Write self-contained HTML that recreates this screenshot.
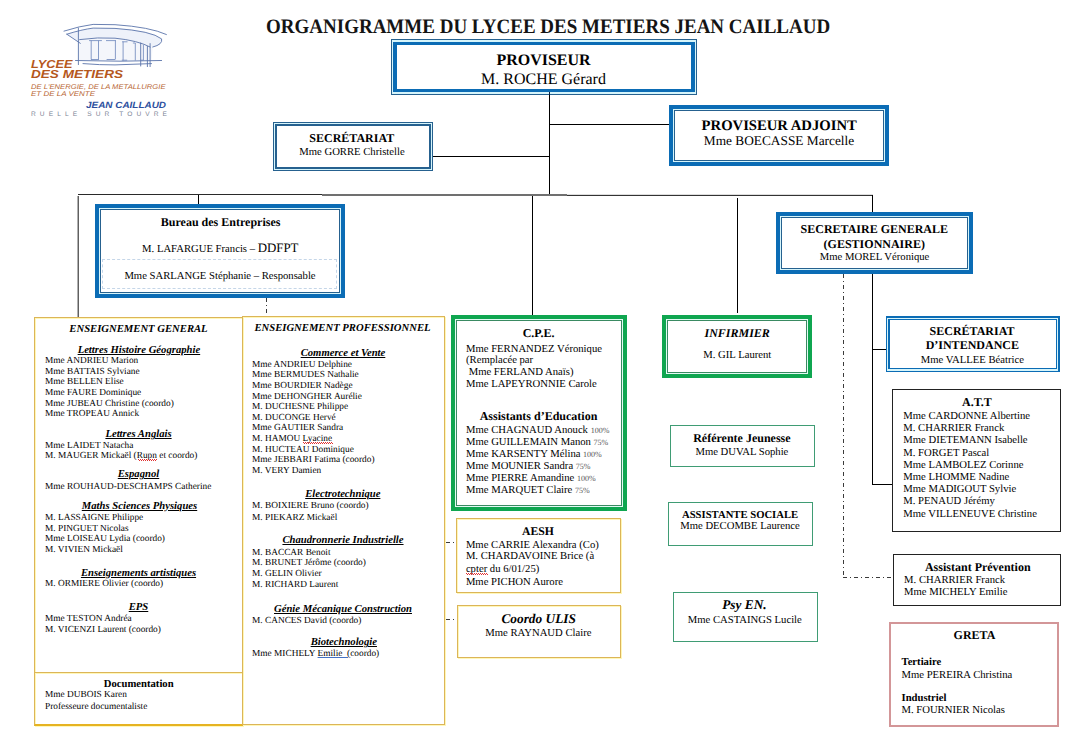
<!DOCTYPE html>
<html><head><meta charset="utf-8"><title>Organigramme</title>
<style>
html,body{margin:0;padding:0;background:#fff;}
body{width:1078px;height:740px;position:relative;overflow:hidden;font-family:"Liberation Serif",serif;color:#000;text-rendering:geometricPrecision;}
.a{position:absolute;}
.t,.tt{position:absolute;white-space:nowrap;}
.sq{text-decoration:underline wavy #e02020;text-decoration-thickness:1px;text-underline-offset:1px;}
u{text-underline-offset:1px;}
</style></head><body>
<div class="t" style="font-size:20.5px;line-height:25.62px;top:14.61px;font-weight:bold;left:266.00px;transform-origin:0 0;transform:scaleX(0.927);color:#141414;">ORGANIGRAMME DU LYCEE DES METIERS JEAN CAILLAUD</div>

<svg class="a" style="left:0;top:0" width="200" height="130" viewBox="0 0 200 130">
 <path d="M66.8,34.2 L80.3,43.3 L79.6,39.6 Q98,37 115,38.2 Q140,41 152.8,47 Q163,44 161.6,38.9 Q150,30 120,28.4 L93.1,28.1 Z" fill="#eef2fa"/>
 <path d="M79.6,39.6 Q98,37 115,38.2 Q140,41 152.8,47 L151.5,61 L78.4,61 Z" fill="#f4f6fb"/>
 <g fill="none" stroke="#5a74aa" stroke-width="0.9" stroke-linecap="round">
  <path d="M64,31.1 Q80,26 93.1,24.4 L115,24.7 Q150,27 166.4,34.5"/>
  <path d="M66.8,34.2 Q82,29.5 93.1,28.1 L115,28.4 Q152,31 161.6,38.9 Q163,44.5 152.8,47"/>
  <path d="M66.8,34.2 L80.3,43.3"/>
  <path d="M79.6,39.6 Q98,37 115,38.2 Q138,40.5 150.1,47"/>
  <path d="M78.4,28.1 L78.4,64.6"/>
  <path d="M75.5,60.5 L120,61.2 L161.6,60.5"/>
  <path d="M83,63.6 Q100,65 115,64.9 L151.5,63.6"/>
  <path d="M150.1,43.6 L150.1,66.6 M147.4,46.4 L147.4,66.6 M140.7,43 L140.7,66"/>
 </g>
 <g fill="none" stroke="#6a84ba" stroke-width="0.8">
  <path d="M91.2,40.6 L91.2,59.5 M98.5,40.6 L98.5,59.5 M115.4,40.6 L115.4,59.5 M123.1,41.6 L123.1,60.5 M135.3,43 L135.3,60.5 M143.4,44.5 L143.4,60.5"/>
  <path d="M89.1,40.6 L101.9,40.6 M106,40.6 L116,40.6 M122.1,41.8 L127.5,41.8 M132.9,43 L135.3,43 M91,59.5 L98.9,59.5 M106.6,59.5 L115,59.5 M121.8,60.2 L127.2,60.2 M140.3,60.2 L143.4,60.2"/>
 </g>
 <g font-family="Liberation Sans" font-style="italic" fill="#b5571c">
  <text x="31" y="67.6" font-size="11.6" font-weight="bold" textLength="41.5" lengthAdjust="spacingAndGlyphs">LYCEE</text>
  <text x="31" y="78.3" font-size="11.6" font-weight="bold" textLength="92" lengthAdjust="spacingAndGlyphs">DES METIERS</text>
  <text x="31" y="88.9" font-size="6.8" fill="#b86634" textLength="134.5" lengthAdjust="spacingAndGlyphs">DE L'ENERGIE, DE LA METALLURGIE</text>
  <text x="31" y="96" font-size="6.8" fill="#b86634" textLength="64" lengthAdjust="spacingAndGlyphs">ET DE LA VENTE</text>
 </g>
 <text x="86" y="108.2" font-family="Liberation Sans" font-style="italic" font-weight="bold" font-size="9" fill="#2d4f9e" textLength="80" lengthAdjust="spacingAndGlyphs">JEAN CAILLAUD</text>
 <text x="31" y="115.9" font-family="Liberation Sans" font-size="6.6" fill="#7d8596" textLength="136" lengthAdjust="spacing">RUELLE SUR TOUVRE</text>
</svg>
<div class="a" style="left:549px;top:95px;width:1px;height:1px;background:#000"></div>
<div class="a" style="left:549px;top:94px;width:1px;height:101px;background:#000"></div>
<div class="a" style="left:549px;top:124px;width:121px;height:1px;background:#000"></div>
<div class="a" style="left:433px;top:156px;width:116px;height:1px;background:#000"></div>
<div class="a" style="left:78px;top:194px;width:244px;height:1px;background:#2a2a2a"></div>
<div class="a" style="left:322px;top:194px;width:245px;height:2px;background:#707070"></div>
<div class="a" style="left:567px;top:195px;width:306px;height:1px;background:#333333"></div>
<div class="a" style="left:567px;top:194px;width:306px;height:1px;background:#dddddd"></div>
<div class="a" style="left:77px;top:196px;width:1px;height:121px;background:#b0b0b0"></div>
<div class="a" style="left:78px;top:196px;width:1px;height:121px;background:#606060"></div>
<div class="a" style="left:198px;top:195px;width:1px;height:10px;background:#000"></div>
<div class="a" style="left:532px;top:196px;width:1px;height:120px;background:#000"></div>
<div class="a" style="left:737px;top:198px;width:1px;height:115px;background:#000"></div>
<div class="a" style="left:872px;top:195px;width:1px;height:18px;background:#000"></div>
<div class="a" style="left:872px;top:273px;width:1px;height:212px;background:#000"></div>
<div class="a" style="left:872px;top:349px;width:15px;height:1px;background:#000"></div>
<div class="a" style="left:872px;top:484px;width:21px;height:1px;background:#000"></div>
<div class="a" style="left:843px;top:274px;width:1px;height:304px;background:repeating-linear-gradient(to bottom,#3a3a3a 0 4px,transparent 4px 7px,#3a3a3a 7px 8px,transparent 8px 11px)"></div>
<div class="a" style="left:843px;top:577px;width:50px;height:1px;background:repeating-linear-gradient(to right,#3a3a3a 0 4px,transparent 4px 7px,#3a3a3a 7px 8px,transparent 8px 11px)"></div>
<div class="a" style="left:266px;top:298px;width:1px;height:18px;background:repeating-linear-gradient(to bottom,#3a3a3a 0 4px,transparent 4px 7px,#3a3a3a 7px 8px,transparent 8px 11px)"></div>
<div class="a" style="left:446px;top:542px;width:10px;height:1px;background:repeating-linear-gradient(to right,#3a3a3a 0 4px,transparent 4px 7px,#3a3a3a 7px 8px,transparent 8px 11px)"></div>
<div class="a" style="left:446px;top:619px;width:11px;height:1px;background:repeating-linear-gradient(to right,#3a3a3a 0 4px,transparent 4px 7px,#3a3a3a 7px 8px,transparent 8px 11px)"></div>
<div class="a" style="left:391px;top:39px;width:306px;height:56px;border-style:solid;border-color:#26618f;border-width:1px 1px 1px 1px;box-sizing:border-box;background:#d6f5fb"></div>
<div class="a" style="left:393px;top:42px;width:302px;height:50px;border-style:solid;border-color:#0b6cb5;border-width:3px 4px 3px 4px;box-sizing:border-box;background:#fff"></div>
<div class="a" style="left:669px;top:105px;width:220px;height:61px;border-style:solid;border-color:#0b6cb5;border-width:4px 4px 4px 4px;box-sizing:border-box;background:#d6f5fb"></div>
<div class="a" style="left:674px;top:110px;width:210px;height:51px;border-style:solid;border-color:#26618f;border-width:1px 1px 1px 1px;box-sizing:border-box;background:#fff"></div>
<div class="a" style="left:273px;top:122px;width:160px;height:49px;border-style:solid;border-color:#26618f;border-width:1px 1px 1px 1px;box-sizing:border-box;background:#d6f5fb"></div>
<div class="a" style="left:275px;top:124px;width:156px;height:45px;border-style:solid;border-color:#26618f;border-width:2px 2px 2px 2px;box-sizing:border-box;background:#fff"></div>
<div class="a" style="left:95px;top:204px;width:250px;height:94px;border-style:solid;border-color:#0b6cb5;border-width:4px 4px 4px 4px;box-sizing:border-box;background:#d6f5fb"></div>
<div class="a" style="left:100px;top:209px;width:240px;height:84px;border-style:solid;border-color:#26618f;border-width:1px 1px 1px 1px;box-sizing:border-box;background:#fff"></div>
<div class="a" style="left:102px;top:259px;width:235px;height:30px;border:1px dashed #c5d6e8;box-sizing:border-box"></div>
<div class="a" style="left:776px;top:212px;width:197px;height:62px;border-style:solid;border-color:#0b6cb5;border-width:4px 4px 4px 4px;box-sizing:border-box;background:#d6f5fb"></div>
<div class="a" style="left:781px;top:217px;width:187px;height:52px;border-style:solid;border-color:#26618f;border-width:1px 1px 1px 1px;box-sizing:border-box;background:#fff"></div>
<div class="a" style="left:34px;top:317px;width:209px;height:409px;border:1px solid #dcb558;border-bottom:2px solid #e6b322;box-sizing:border-box;box-shadow:1px 1px 0 #fff7b8, inset 1px 1px 0 #fff7b8;"></div>
<div class="a" style="left:34px;top:672px;width:209px;height:1px;background:#dcb558"></div>
<div class="a" style="left:35px;top:673px;width:207px;height:1px;background:#fff7b8"></div>
<div class="a" style="left:242px;top:316px;width:203px;height:409px;border:1px solid #dcb558;box-sizing:border-box;box-shadow:1px 1px 0 #fff7b8, inset 1px 1px 0 #fff7b8;"></div>
<div class="a" style="left:451px;top:315px;width:176px;height:196px;border-style:solid;border-color:#0fa650;border-width:4px 4px 4px 4px;box-sizing:border-box;background:#e2fbf4"></div>
<div class="a" style="left:456px;top:320px;width:166px;height:186px;border-style:solid;border-color:#3a8a62;border-width:1px 1px 1px 1px;box-sizing:border-box;background:#fff"></div>
<div class="a" style="left:456px;top:518px;width:165px;height:75px;border:1px solid #dcb558;box-sizing:border-box;box-shadow:1px 1px 0 #fff7b8, inset 1px 1px 0 #fff7b8;"></div>
<div class="a" style="left:457px;top:605px;width:164px;height:53px;border:1px solid #dcb558;box-sizing:border-box;box-shadow:1px 1px 0 #fff7b8, inset 1px 1px 0 #fff7b8;"></div>
<div class="a" style="left:662px;top:315px;width:150px;height:63px;border-style:solid;border-color:#0fa650;border-width:4px 4px 4px 4px;box-sizing:border-box;background:#e2fbf4"></div>
<div class="a" style="left:667px;top:320px;width:140px;height:53px;border-style:solid;border-color:#3a8a62;border-width:1px 1px 1px 1px;box-sizing:border-box;background:#fff"></div>
<div class="a" style="left:670px;top:425px;width:145px;height:42px;border:1px solid #3f9c74;box-sizing:border-box"></div>
<div class="a" style="left:668px;top:502px;width:145px;height:44px;border:1px solid #3f9c74;box-sizing:border-box"></div>
<div class="a" style="left:673px;top:592px;width:145px;height:50px;border:1px solid #3f9c74;box-sizing:border-box"></div>
<div class="a" style="left:886px;top:316px;width:174px;height:56px;border-style:solid;border-color:#0b6cb5;border-width:2px 2px 1px 1px;box-sizing:border-box;background:#d6f5fb"></div>
<div class="a" style="left:888px;top:319px;width:169px;height:50px;border-style:solid;border-color:#0b6cb5;border-width:1px 1px 1px 2px;box-sizing:border-box;background:#fff"></div>
<div class="a" style="left:892px;top:389px;width:169px;height:143px;border:1px solid #222;box-sizing:border-box"></div>
<div class="a" style="left:893px;top:554px;width:168px;height:52px;border:1px solid #222;box-sizing:border-box"></div>
<div class="a" style="left:889px;top:622px;width:170px;height:105px;border:2px solid #d39698;box-sizing:border-box"></div>
<div class="a" style="left:549px;top:92px;width:1px;height:3px;background:#0a1e3c"></div>
<div class="t" style="font-size:16.0px;line-height:20.0px;top:51.01px;font-weight:bold;left:243.50px;width:600px;text-align:center;">PROVISEUR</div>
<div class="t" style="font-size:16.0px;line-height:20.0px;top:69.61px;left:243.50px;width:600px;text-align:center;">M. ROCHE Gérard</div>
<div class="t" style="font-size:14.67px;line-height:18.34px;top:116.71px;font-weight:bold;left:479.20px;width:600px;text-align:center;">PROVISEUR ADJOINT</div>
<div class="t" style="font-size:13.33px;line-height:16.66px;top:132.60px;left:479.00px;width:600px;text-align:center;">Mme BOECASSE Marcelle</div>
<div class="t" style="font-size:12.0px;line-height:15.0px;top:130.70px;font-weight:bold;left:51.80px;width:600px;text-align:center;">SECRÉTARIAT</div>
<div class="t" style="font-size:10.67px;line-height:13.34px;top:146.01px;left:52.00px;width:600px;text-align:center;">Mme GORRE Christelle</div>
<div class="t" style="font-size:12.0px;line-height:15.0px;top:214.70px;font-weight:bold;left:-79.40px;width:600px;text-align:center;">Bureau des Entreprises</div>
<div class="t" style="font-size:10.67px;line-height:13.34px;top:241.80px;left:-79.70px;width:600px;text-align:center;">M. LAFARGUE Francis – <span style="font-size:12.9px">DDFPT</span></div>
<div class="t" style="font-size:10.67px;line-height:13.34px;top:269.91px;left:-80.00px;width:600px;text-align:center;">Mme SARLANGE Stéphanie – Responsable</div>
<div class="t" style="font-size:12.0px;line-height:15.0px;top:222.41px;font-weight:bold;left:574.30px;width:600px;text-align:center;">SECRETAIRE GENERALE</div>
<div class="t" style="font-size:12.0px;line-height:15.0px;top:236.60px;font-weight:bold;left:574.30px;width:600px;text-align:center;">(GESTIONNAIRE)</div>
<div class="t" style="font-size:10.67px;line-height:13.34px;top:251.41px;left:574.60px;width:600px;text-align:center;">Mme MOREL Véronique</div>
<div class="t" style="font-size:10.67px;line-height:13.34px;top:323.01px;font-weight:bold;font-style:italic;left:-161.50px;width:600px;text-align:center;">ENSEIGNEMENT GENERAL</div>
<div class="t" style="font-size:10.67px;line-height:13.34px;top:343.72px;font-weight:bold;font-style:italic;left:-161.10px;width:600px;text-align:center;"><u>Lettres Histoire Géographie</u></div>
<div class="t" style="font-size:9.33px;line-height:11.66px;top:355.81px;left:45.00px;">Mme ANDRIEU Marion</div>
<div class="t" style="font-size:9.33px;line-height:11.66px;top:366.54px;left:45.00px;">Mme BATTAIS Sylviane</div>
<div class="t" style="font-size:9.33px;line-height:11.66px;top:377.25px;left:45.00px;">Mme BELLEN Elise</div>
<div class="t" style="font-size:9.33px;line-height:11.66px;top:387.97px;left:45.00px;">Mme FAURE Dominique</div>
<div class="t" style="font-size:9.33px;line-height:11.66px;top:398.68px;left:45.00px;">Mme JUBEAU Christine (coordo)</div>
<div class="t" style="font-size:9.33px;line-height:11.66px;top:409.40px;left:45.00px;">Mme TROPEAU Annick</div>
<div class="t" style="font-size:10.67px;line-height:13.34px;top:428.10px;font-weight:bold;font-style:italic;left:-161.50px;width:600px;text-align:center;"><u>Lettres Anglais</u></div>
<div class="t" style="font-size:9.33px;line-height:11.66px;top:440.61px;left:45.00px;">Mme LAIDET Natacha</div>
<div class="t" style="font-size:9.33px;line-height:11.66px;top:450.90px;left:45.00px;">M. MAUGER Mickaël (Rupn et coordo)</div>
<div class="t" style="font-size:10.67px;line-height:13.34px;top:468.01px;font-weight:bold;font-style:italic;left:-161.50px;width:600px;text-align:center;"><u>Espagnol</u></div>
<div class="t" style="font-size:9.33px;line-height:11.66px;top:481.51px;left:45.00px;">Mme ROUHAUD-DESCHAMPS Catherine</div>
<div class="t" style="font-size:10.67px;line-height:13.34px;top:499.60px;font-weight:bold;font-style:italic;left:-160.50px;width:600px;text-align:center;"><u>Maths Sciences Physiques</u></div>
<div class="t" style="font-size:9.33px;line-height:11.66px;top:513.01px;left:45.00px;">M. LASSAIGNE Philippe</div>
<div class="t" style="font-size:9.33px;line-height:11.66px;top:523.61px;left:45.00px;">M. PINGUET Nicolas</div>
<div class="t" style="font-size:9.33px;line-height:11.66px;top:534.21px;left:45.00px;">Mme LOISEAU Lydia (coordo)</div>
<div class="t" style="font-size:9.33px;line-height:11.66px;top:544.81px;left:45.00px;">M. VIVIEN Mickaël</div>
<div class="t" style="font-size:10.67px;line-height:13.34px;top:566.51px;font-weight:bold;font-style:italic;left:-161.50px;width:600px;text-align:center;"><u>Enseignements artistiques</u></div>
<div class="t" style="font-size:9.33px;line-height:11.66px;top:579.40px;left:45.00px;">M. ORMIERE Olivier (coordo)</div>
<div class="t" style="font-size:10.67px;line-height:13.34px;top:600.51px;font-weight:bold;font-style:italic;left:-161.50px;width:600px;text-align:center;"><u>EPS</u></div>
<div class="t" style="font-size:9.33px;line-height:11.66px;top:613.81px;left:45.00px;">Mme TESTON Andréa</div>
<div class="t" style="font-size:9.33px;line-height:11.66px;top:624.90px;left:45.00px;">M. VICENZI Laurent (coordo)</div>
<div class="t" style="font-size:10.67px;line-height:13.34px;top:677.51px;font-weight:bold;left:-161.30px;width:600px;text-align:center;">Documentation</div>
<div class="t" style="font-size:9.33px;line-height:11.66px;top:690.31px;left:45.00px;">Mme DUBOIS Karen</div>
<div class="t" style="font-size:9.33px;line-height:11.66px;top:701.61px;left:45.00px;">Professeure documentaliste</div>
<div class="t" style="font-size:10.67px;line-height:13.34px;top:321.72px;font-weight:bold;font-style:italic;left:42.50px;width:600px;text-align:center;">ENSEIGNEMENT PROFESSIONNEL</div>
<div class="t" style="font-size:10.67px;line-height:13.34px;top:346.51px;font-weight:bold;font-style:italic;left:43.00px;width:600px;text-align:center;"><u>Commerce et Vente</u></div>
<div class="t" style="font-size:9.33px;line-height:11.66px;top:359.71px;left:252.00px;">Mme ANDRIEU Delphine</div>
<div class="t" style="font-size:9.33px;line-height:11.66px;top:370.31px;left:252.00px;">Mme BERMUDES Nathalie</div>
<div class="t" style="font-size:9.33px;line-height:11.66px;top:380.92px;left:252.00px;">Mme BOURDIER Nadège</div>
<div class="t" style="font-size:9.33px;line-height:11.66px;top:391.53px;left:252.00px;">Mme DEHONGHER Aurélie</div>
<div class="t" style="font-size:9.33px;line-height:11.66px;top:402.14px;left:252.00px;">M. DUCHESNE Philippe</div>
<div class="t" style="font-size:9.33px;line-height:11.66px;top:412.76px;left:252.00px;">M. DUCONGE Hervé</div>
<div class="t" style="font-size:9.33px;line-height:11.66px;top:423.37px;left:252.00px;">Mme GAUTIER Sandra</div>
<div class="t" style="font-size:9.33px;line-height:11.66px;top:433.98px;left:252.00px;">M. HAMOU Lyacine</div>
<div class="t" style="font-size:9.33px;line-height:11.66px;top:444.59px;left:252.00px;">M. HUCTEAU Dominique</div>
<div class="t" style="font-size:9.33px;line-height:11.66px;top:455.20px;left:252.00px;">Mme JEBBARI Fatima (coordo)</div>
<div class="t" style="font-size:9.33px;line-height:11.66px;top:465.81px;left:252.00px;">M. VERY Damien</div>
<div class="t" style="font-size:10.67px;line-height:13.34px;top:488.10px;font-weight:bold;font-style:italic;left:42.80px;width:600px;text-align:center;"><u>Electrotechnique</u></div>
<div class="t" style="font-size:9.33px;line-height:11.66px;top:501.40px;left:252.00px;">M. BOIXIERE Bruno (coordo)</div>
<div class="t" style="font-size:9.33px;line-height:11.66px;top:512.61px;left:252.00px;">M. PIEKARZ Mickaël</div>
<div class="t" style="font-size:10.67px;line-height:13.34px;top:534.41px;font-weight:bold;font-style:italic;left:43.00px;width:600px;text-align:center;"><u>Chaudronnerie Industrielle</u></div>
<div class="t" style="font-size:9.33px;line-height:11.66px;top:547.71px;left:252.00px;">M. BACCAR Benoit</div>
<div class="t" style="font-size:9.33px;line-height:11.66px;top:558.31px;left:252.00px;">M. BRUNET Jérôme (coordo)</div>
<div class="t" style="font-size:9.33px;line-height:11.66px;top:568.90px;left:252.00px;">M. GELIN Olivier</div>
<div class="t" style="font-size:9.33px;line-height:11.66px;top:579.51px;left:252.00px;">M. RICHARD Laurent</div>
<div class="t" style="font-size:10.67px;line-height:13.34px;top:602.51px;font-weight:bold;font-style:italic;left:43.00px;width:600px;text-align:center;"><u>Génie Mécanique Construction</u></div>
<div class="t" style="font-size:9.33px;line-height:11.66px;top:615.81px;left:252.00px;">M. CANCES David (coordo)</div>
<div class="t" style="font-size:10.67px;line-height:13.34px;top:636.30px;font-weight:bold;font-style:italic;left:43.80px;width:600px;text-align:center;"><u>Biotechnologie</u></div>
<div class="t" style="font-size:9.33px;line-height:11.66px;top:648.61px;left:252.00px;white-space:pre;">Mme MICHELY <span style="text-decoration:underline;text-decoration-color:#4472c4">Emilie  (</span>coordo)</div>
<div class="t" style="font-size:12.0px;line-height:15.0px;top:326.31px;font-weight:bold;left:238.60px;width:600px;text-align:center;">C.P.E.</div>
<div class="t" style="font-size:10.67px;line-height:13.34px;top:342.51px;left:466.00px;">Mme FERNANDEZ Véronique</div>
<div class="t" style="font-size:10.67px;line-height:13.34px;top:354.41px;left:466.00px;">(Remplacée par</div>
<div class="t" style="font-size:10.67px;line-height:13.34px;top:366.22px;left:466.00px;white-space:pre;"> Mme FERLAND Anaïs)</div>
<div class="t" style="font-size:10.67px;line-height:13.34px;top:378.01px;left:466.00px;">Mme LAPEYRONNIE Carole</div>
<div class="t" style="font-size:12.0px;line-height:15.0px;top:408.70px;font-weight:bold;left:238.50px;width:600px;text-align:center;">Assistants d’Education</div>
<div class="t" style="font-size:10.67px;line-height:13.34px;top:423.60px;left:466.00px;">Mme CHAGNAUD Anouck <span style="font-size:8px;color:#555">100%</span></div>
<div class="t" style="font-size:10.67px;line-height:13.34px;top:435.68px;left:466.00px;">Mme GUILLEMAIN Manon <span style="font-size:8px;color:#555">75%</span></div>
<div class="t" style="font-size:10.67px;line-height:13.34px;top:447.77px;left:466.00px;">Mme KARSENTY Mélina <span style="font-size:8px;color:#555">100%</span></div>
<div class="t" style="font-size:10.67px;line-height:13.34px;top:459.85px;left:466.00px;">Mme MOUNIER Sandra <span style="font-size:8px;color:#555">75%</span></div>
<div class="t" style="font-size:10.67px;line-height:13.34px;top:471.92px;left:466.00px;">Mme PIERRE Amandine <span style="font-size:8px;color:#555">100%</span></div>
<div class="t" style="font-size:10.67px;line-height:13.34px;top:484.01px;left:466.00px;">Mme MARQUET Claire <span style="font-size:8px;color:#555">75%</span></div>
<div class="t" style="font-size:11.7px;line-height:14.62px;top:524.51px;font-weight:bold;left:238.00px;width:600px;text-align:center;">AESH</div>
<div class="t" style="font-size:10.67px;line-height:13.34px;top:538.80px;left:465.90px;">Mme CARRIE Alexandra (Co)</div>
<div class="t" style="font-size:10.67px;line-height:13.34px;top:550.41px;left:465.90px;">M. CHARDAVOINE Brice (à</div>
<div class="t" style="font-size:10.67px;line-height:13.34px;top:563.10px;left:465.90px;">cpter du 6/01/25)</div>
<div class="t" style="font-size:10.67px;line-height:13.34px;top:575.72px;left:465.90px;">Mme PICHON Aurore</div>
<div class="t" style="font-size:13.33px;line-height:16.66px;top:610.71px;font-weight:bold;font-style:italic;left:238.70px;width:600px;text-align:center;">Coordo ULIS</div>
<div class="t" style="font-size:10.67px;line-height:13.34px;top:627.41px;left:238.40px;width:600px;text-align:center;">Mme RAYNAUD Claire</div>
<div class="t" style="font-size:12.0px;line-height:15.0px;top:325.51px;font-weight:bold;font-style:italic;left:437.20px;width:600px;text-align:center;">INFIRMIER</div>
<div class="t" style="font-size:10.67px;line-height:13.34px;top:348.72px;left:437.30px;width:600px;text-align:center;">M. GIL Laurent</div>
<div class="t" style="font-size:12.0px;line-height:15.0px;top:430.51px;font-weight:bold;left:441.90px;width:600px;text-align:center;">Référente Jeunesse</div>
<div class="t" style="font-size:10.67px;line-height:13.34px;top:445.72px;left:441.90px;width:600px;text-align:center;">Mme DUVAL Sophie</div>
<div class="t" style="font-size:10.67px;line-height:13.34px;top:508.60px;font-weight:bold;left:440.10px;width:600px;text-align:center;">ASSISTANTE SOCIALE</div>
<div class="t" style="font-size:10.67px;line-height:13.34px;top:520.30px;left:440.00px;width:600px;text-align:center;">Mme DECOMBE Laurence</div>
<div class="t" style="font-size:13.33px;line-height:16.66px;top:596.91px;font-weight:bold;font-style:italic;left:444.40px;width:600px;text-align:center;">Psy EN.</div>
<div class="t" style="font-size:10.67px;line-height:13.34px;top:613.60px;left:444.80px;width:600px;text-align:center;">Mme CASTAINGS Lucile</div>
<div class="t" style="font-size:12.0px;line-height:15.0px;top:324.20px;font-weight:bold;left:672.00px;width:600px;text-align:center;">SECRÉTARIAT</div>
<div class="t" style="font-size:12.0px;line-height:15.0px;top:338.10px;font-weight:bold;left:672.30px;width:600px;text-align:center;">D’INTENDANCE</div>
<div class="t" style="font-size:10.67px;line-height:13.34px;top:353.51px;left:672.40px;width:600px;text-align:center;">Mme VALLEE Béatrice</div>
<div class="t" style="font-size:12.0px;line-height:15.0px;top:394.51px;font-weight:bold;left:677.00px;width:600px;text-align:center;">A.T.T</div>
<div class="t" style="font-size:10.67px;line-height:13.34px;top:409.91px;left:903.30px;">Mme CARDONNE Albertine</div>
<div class="t" style="font-size:10.67px;line-height:13.34px;top:422.13px;left:903.30px;">M. CHARRIER Franck</div>
<div class="t" style="font-size:10.67px;line-height:13.34px;top:434.35px;left:903.30px;">Mme DIETEMANN Isabelle</div>
<div class="t" style="font-size:10.67px;line-height:13.34px;top:446.56px;left:903.30px;">M. FORGET Pascal</div>
<div class="t" style="font-size:10.67px;line-height:13.34px;top:458.79px;left:903.30px;">Mme LAMBOLEZ Corinne</div>
<div class="t" style="font-size:10.67px;line-height:13.34px;top:471.01px;left:903.30px;">Mme LHOMME Nadine</div>
<div class="t" style="font-size:10.67px;line-height:13.34px;top:483.23px;left:903.30px;">Mme MADIGOUT Sylvie</div>
<div class="t" style="font-size:10.67px;line-height:13.34px;top:495.44px;left:903.30px;">M. PENAUD Jérémy</div>
<div class="t" style="font-size:10.67px;line-height:13.34px;top:507.67px;left:903.30px;">Mme VILLENEUVE Christine</div>
<div class="t" style="font-size:12.0px;line-height:15.0px;top:559.60px;font-weight:bold;left:677.80px;width:600px;text-align:center;">Assistant Prévention</div>
<div class="t" style="font-size:10.67px;line-height:13.34px;top:574.30px;left:904.10px;">M. CHARRIER Franck</div>
<div class="t" style="font-size:10.67px;line-height:13.34px;top:586.10px;left:904.10px;">Mme MICHELY Emilie</div>
<div class="t" style="font-size:12.0px;line-height:15.0px;top:628.31px;font-weight:bold;left:674.50px;width:600px;text-align:center;">GRETA</div>
<div class="t" style="font-size:10.67px;line-height:13.34px;top:655.72px;font-weight:bold;left:901.50px;">Tertiaire</div>
<div class="t" style="font-size:10.67px;line-height:13.34px;top:668.60px;left:901.50px;">Mme PEREIRA Christina</div>
<div class="t" style="font-size:10.67px;line-height:13.34px;top:692.41px;font-weight:bold;left:901.50px;">Industriel</div>
<div class="t" style="font-size:10.67px;line-height:13.34px;top:704.30px;left:901.50px;">M. FOURNIER Nicolas</div>
<div class="a" style="left:138px;top:459px;width:19px;height:1px;background:repeating-linear-gradient(90deg,#e03030 0 1px,transparent 1px 2px)"></div>
<div class="a" style="left:139px;top:460px;width:18px;height:1px;background:repeating-linear-gradient(90deg,#e03030 0 1px,transparent 1px 2px)"></div>
<div class="a" style="left:303px;top:442px;width:30px;height:1px;background:repeating-linear-gradient(90deg,#e03030 0 1px,transparent 1px 2px)"></div>
<div class="a" style="left:304px;top:443px;width:29px;height:1px;background:repeating-linear-gradient(90deg,#e03030 0 1px,transparent 1px 2px)"></div>
<div class="a" style="left:466px;top:573px;width:22px;height:1px;background:repeating-linear-gradient(90deg,#e03030 0 1px,transparent 1px 2px)"></div>
<div class="a" style="left:467px;top:574px;width:21px;height:1px;background:repeating-linear-gradient(90deg,#e03030 0 1px,transparent 1px 2px)"></div>
</body></html>
